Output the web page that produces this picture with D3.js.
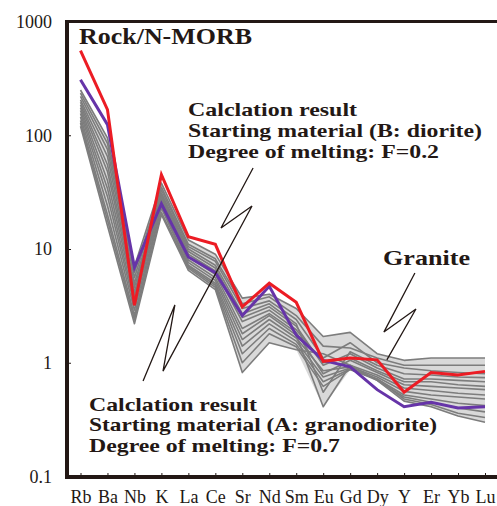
<!DOCTYPE html>
<html>
<head>
<meta charset="utf-8">
<script src="https://cdn.jsdelivr.net/npm/d3@7"></script>
<style>
  body { margin: 0; background: #fff; }
  svg { display: block; }
</style>
</head>
<body>
<svg id="chart" width="497" height="506"></svg>
<script>
var elements = ["Rb", "Ba", "Nb", "K", "La", "Ce", "Sr", "Nd", "Sm", "Eu", "Gd", "Dy", "Y", "Er", "Yb", "Lu"]
var yTicks = [0.1, 1, 10, 100, 1000]

// granite samples (rock / N-MORB)
var granite = [
    [250, 95, 7.0, 38, 12.0, 9.0, 3.7, 4.0, 3.0, 1.7, 1.85, 1.2, 1.05, 1.1, 1.1, 1.1],
    [235, 85, 6.2, 35, 11.0, 8.2, 3.3, 3.8, 2.6, 1.4, 1.35, 1.1, 0.95, 0.95, 0.95, 0.95],
    [220, 75, 5.6, 33, 10.5, 7.8, 3.0, 3.5, 2.4, 1.1, 1.5, 1.0, 0.9, 0.85, 0.82, 0.8],
    [205, 65, 5.0, 31, 10.0, 7.2, 2.7, 3.3, 2.2, 0.55, 1.25, 0.95, 0.8, 0.78, 0.75, 0.74],
    [195, 55, 4.6, 30, 9.5, 6.8, 2.5, 3.1, 2.1, 0.95, 1.2, 0.9, 0.72, 0.72, 0.7, 0.68],
    [185, 48, 4.2, 29, 9.0, 6.4, 2.3, 2.9, 1.95, 1.0, 1.1, 0.85, 0.68, 0.68, 0.64, 0.62],
    [175, 40, 3.9, 28, 8.5, 6.0, 2.0, 2.7, 1.85, 0.8, 1.05, 0.82, 0.64, 0.62, 0.6, 0.58],
    [165, 34, 3.5, 27, 8.0, 5.6, 1.8, 2.6, 1.75, 0.41, 0.95, 0.78, 0.6, 0.57, 0.54, 0.52],
    [155, 29, 3.2, 26, 7.6, 5.3, 1.6, 2.4, 1.65, 0.85, 0.92, 0.75, 0.56, 0.52, 0.5, 0.48],
    [145, 24, 2.9, 24, 7.2, 5.0, 1.4, 2.2, 1.55, 0.75, 0.9, 0.72, 0.52, 0.48, 0.44, 0.42],
    [135, 20, 2.6, 23, 7.0, 4.8, 1.2, 2.0, 1.45, 0.68, 0.88, 0.7, 0.5, 0.45, 0.4, 0.37],
    [128, 18, 2.4, 21, 6.8, 4.6, 1.0, 1.8, 1.38, 0.62, 0.87, 0.72, 0.48, 0.43, 0.36, 0.33],
    [120, 16, 2.2, 20, 6.5, 4.4, 0.82, 1.5, 1.3, 1.2, 0.95, 0.7, 0.46, 0.41, 0.34, 0.30]
]

// calculation results
var resultB = [555, 168, 3.2, 45, 12.8, 11, 3.1, 5.0, 3.4, 1.03, 1.1, 1.06, 0.55, 0.82, 0.78, 0.84]
var resultA = [308, 124, 6.9, 25, 8.5, 6.2, 2.6, 4.7, 1.75, 1.05, 0.92, 0.58, 0.41, 0.45, 0.40, 0.41]

// pointer paths, [element index, value]
var pointerAB = [[6.40, 51.5], [5.21, 15.3], [6.36, 23.9], [3.06, 0.845], [3.50, 3.22], [2.32, 0.69]]
var pointerGranite = [[12.40, 6.15], [11.25, 1.86], [12.44, 2.97], [11.36, 1.06]]

var svg = d3.select("#chart")
var ink = "#231815"
var serif = "'Liberation Serif', 'Times New Roman', serif"

var x = d3.scalePoint().domain(elements).range([80.5, 485])
var xi = d3.scaleLinear().domain([0, elements.length - 1]).range([80.5, 485])
var y = d3.scaleLog().domain([0.1, 1000]).range([476.5, 21.5])

// envelope of granite samples
var band = elements.map(function (e, i) {
    var vals = granite.map(function (s) { return s[i] })
    return { e: e, lo: d3.min(vals), hi: d3.max(vals) }
})

svg.append("path")
    .datum(band)
    .attr("fill", "#d9d9d9")
    .attr("d", d3.area()
        .x(function (d) { return x(d.e) })
        .y0(function (d) { return y(d.lo) })
        .y1(function (d) { return y(d.hi) }))

var line = d3.line()
    .x(function (d, i) { return x(elements[i]) })
    .y(function (d) { return y(d) })

svg.selectAll(".granite")
    .data(granite)
    .enter()
    .append("path")
    .attr("class", "granite")
    .attr("fill", "none")
    .attr("stroke", "#7d7d7d")
    .attr("stroke-width", 1.6)
    .attr("stroke-linejoin", "round")
    .attr("d", line)

svg.append("path")
    .datum(resultA)
    .attr("fill", "none")
    .attr("stroke", "#6634a8")
    .attr("stroke-width", 3)
    .attr("d", line)

svg.append("path")
    .datum(resultB)
    .attr("fill", "none")
    .attr("stroke", "#ec1c24")
    .attr("stroke-width", 3)
    .attr("d", line)

// pointers
var pline = d3.line()
    .x(function (d) { return xi(d[0]) })
    .y(function (d) { return y(d[1]) })

svg.selectAll(".pointer")
    .data([pointerAB, pointerGranite])
    .enter()
    .append("path")
    .attr("class", "pointer")
    .attr("fill", "none")
    .attr("stroke", ink)
    .attr("stroke-width", 1.3)
    .attr("d", pline)

// axes
var xAxis = d3.axisBottom(x).tickSize(-4).tickSizeOuter(0).tickPadding(13)
var gx = svg.append("g")
    .attr("transform", "translate(0,477)")
    .call(xAxis)
gx.select(".domain").remove()
gx.selectAll(".tick line").attr("stroke", ink)

var yAxis = d3.axisLeft(y)
    .tickValues(yTicks)
    .tickFormat(function (d) { return String(d) })
    .tickSize(-4)
    .tickSizeOuter(0)
    .tickPadding(15)
var gy = svg.append("g")
    .attr("transform", "translate(67,0)")
    .call(yAxis)
gy.select(".domain").remove()
gy.selectAll(".tick line").attr("stroke", ink)

svg.selectAll(".tick text")
    .style("font-family", serif)
    .style("font-size", "18px")
    .style("fill", ink)

// frame
svg.append("line").attr("x1", 67).attr("x2", 67).attr("y1", 20).attr("y2", 479)
    .attr("stroke", ink).attr("stroke-width", 4)
svg.append("line").attr("x1", 65).attr("x2", 497).attr("y1", 477).attr("y2", 477)
    .attr("stroke", ink).attr("stroke-width", 4)
svg.append("line").attr("x1", 65).attr("x2", 497).attr("y1", 21.5).attr("y2", 21.5)
    .attr("stroke", ink).attr("stroke-width", 3)

// labels
var notes = [
    { t: "Rock/N-MORB", x: 79, y: 44, fs: 23, w: 173 },
    { t: "Calclation result", x: 188, y: 116, fs: 19, w: 169 },
    { t: "Starting material (B: diorite)", x: 188, y: 137, fs: 19, w: 294 },
    { t: "Degree of melting: F=0.2", x: 188, y: 158, fs: 19, w: 251 },
    { t: "Granite", x: 383, y: 265, fs: 21, w: 87 },
    { t: "Calclation result", x: 89, y: 411, fs: 19, w: 168 },
    { t: "Starting material (A: granodiorite)", x: 89, y: 431, fs: 19, w: 348 },
    { t: "Degree of melting: F=0.7", x: 89, y: 452, fs: 19, w: 251 }
]

svg.selectAll(".note")
    .data(notes)
    .enter()
    .append("text")
    .attr("class", "note")
    .attr("x", function (d) { return d.x })
    .attr("y", function (d) { return d.y })
    .style("font-family", serif)
    .style("font-weight", "bold")
    .style("font-size", function (d) { return d.fs + "px" })
    .style("fill", ink)
    .attr("textLength", function (d) { return d.w })
    .attr("lengthAdjust", "spacingAndGlyphs")
    .text(function (d) { return d.t })
</script>
</body>
</html>
